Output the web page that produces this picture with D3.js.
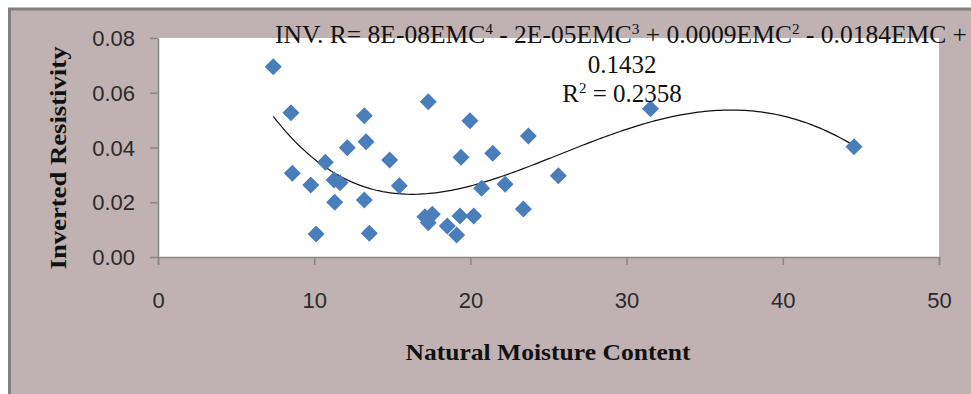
<!DOCTYPE html>
<html>
<head>
<meta charset="utf-8">
<script src="https://cdn.jsdelivr.net/npm/d3@7"></script>
<style>
  body { margin: 0; background: #fff; }
  svg { display: block; }
</style>
</head>
<body>
<div class="chart"></div>
<script>
// natural moisture content (x) and inverted resistivity (y)
const emc = [7.38, 8.51, 8.60, 9.78, 10.12, 10.71, 11.27, 11.65, 11.31, 12.12,
             13.21, 13.32, 13.21, 13.53, 14.83, 15.45, 17.30, 17.09, 17.56, 17.30,
             18.52, 19.12, 19.40, 19.33, 19.97, 20.21, 20.72, 21.43, 22.22, 23.39,
             23.71, 25.63, 31.53, 44.56]
const invR = [0.0695, 0.0527, 0.0306, 0.0263, 0.0084, 0.0346, 0.0281, 0.0271, 0.0200, 0.0399,
              0.0516, 0.0421, 0.0208, 0.0087, 0.0354, 0.0260, 0.0567, 0.0147, 0.0156, 0.0125,
              0.0113, 0.0080, 0.0364, 0.0150, 0.0498, 0.0150, 0.0251, 0.0379, 0.0266, 0.0175,
              0.0442, 0.0297, 0.0542, 0.0403]
const xTicks = [0, 10, 20, 30, 40, 50]
const yTicks = [0, 0.02, 0.04, 0.06, 0.08]

const W = 971, H = 394
const margin = ({top: 38, right: 32, bottom: 137, left: 158})
const width = W - margin.left - margin.right,
      height = H - margin.top - margin.bottom

let svg = d3.select(".chart").append("svg")
    .attr("width", W)
    .attr("height", H)

// chart area background with its border
svg.append("rect")
    .attr("x", 9.5).attr("y", 9)
    .attr("width", W + 20).attr("height", H + 20)
    .attr("fill", "#c0b2b2")
    .attr("stroke", "#808080")
    .attr("stroke-width", 3)

let g = svg.append("g")
    .attr("transform", "translate(" + margin.left + "," + margin.top + ")")

const xScale = d3.scaleLinear().domain([0, 50]).range([0, width])
const yScale = d3.scaleLinear().domain([0, 0.08]).range([height, 0])

g.append("rect")
    .attr("width", width).attr("height", height)
    .attr("fill", "#fff")

let xAxis = d3.axisBottom(xScale).tickValues(xTicks).tickSizeInner(8).tickSizeOuter(8).tickPadding(27)
let yAxis = d3.axisLeft(yScale).tickValues(yTicks).tickSizeInner(8).tickSizeOuter(0)
    .tickPadding(15).tickFormat(d3.format(".2f"))

g.append("g")
    .attr("class", "axis x-axis")
    .attr("transform", `translate(0, ${height})`)
    .call(xAxis)

g.append("g")
    .attr("class", "axis y-axis")
    .call(yAxis)

g.selectAll(".axis path, .axis line")
    .attr("stroke", "#868686")
    .attr("stroke-width", 1.5)
g.selectAll(".axis text")
    .attr("fill", "#2a2a2a")
    .style("font-family", "'Liberation Sans', Arial, sans-serif")
    .style("font-size", "22px")
g.selectAll(".y-axis text").attr("dy", "0.35em")

// polynomial (order 4) least squares trendline, like the spreadsheet's
function polyFit(xs, ys, deg) {
    const n = deg + 1, s = 10
    let A = [], b = []
    for (let i = 0; i < n; i++) {
        A.push(new Array(n).fill(0)); b.push(0)
    }
    xs.forEach((x, k) => {
        const u = x / s
        for (let i = 0; i < n; i++) {
            for (let j = 0; j < n; j++) A[i][j] += Math.pow(u, i + j)
            b[i] += ys[k] * Math.pow(u, i)
        }
    })
    for (let c = 0; c < n; c++) {
        let p = c
        for (let r = c + 1; r < n; r++) if (Math.abs(A[r][c]) > Math.abs(A[p][c])) p = r
        ;[A[c], A[p]] = [A[p], A[c]]; [b[c], b[p]] = [b[p], b[c]]
        for (let r = 0; r < n; r++) {
            if (r == c) continue
            const f = A[r][c] / A[c][c]
            for (let j = c; j < n; j++) A[r][j] -= f * A[c][j]
            b[r] -= f * b[c]
        }
    }
    const coef = b.map((v, i) => v / A[i][i])
    return x => coef.reduce((acc, c, i) => acc + c * Math.pow(x / s, i), 0)
}

const fit = polyFit(emc, invR, 4)
const xs = d3.range(d3.min(emc), d3.max(emc), 0.2).concat([d3.max(emc)])

g.append("path")
    .datum(xs)
    .attr("fill", "none")
    .attr("stroke", "#111")
    .attr("stroke-width", 1.2)
    .attr("d", d3.line().x(d => xScale(d)).y(d => yScale(fit(d))))

const data = emc.map((d, i) => ({x: d, y: invR[i]}))

g.selectAll(".pt")
    .data(data)
    .enter()
    .append("path")
    .attr("class", "pt")
    .attr("transform", d => `translate(${xScale(d.x)},${yScale(d.y)})`)
    .attr("d", "M0,-8.5L8.5,0L0,8.5L-8.5,0Z")
    .attr("fill", "#4a7ebb")

// trendline equation label
const serif = "'Liberation Serif', 'Times New Roman', serif"
const eqParts = [["INV. R= 8E-08EMC", "4"], [" - 2E-05EMC", "3"], [" + 0.0009EMC", "2"], [" - 0.0184EMC +", null]]

let eq = svg.append("text")
    .attr("x", 621).attr("y", 43)
    .attr("text-anchor", "middle")
    .style("font-family", serif)
    .style("font-size", "25px")
    .attr("fill", "#111")
    .attr("textLength", 692).attr("lengthAdjust", "spacingAndGlyphs")
let shift = 0
eqParts.forEach(p => {
    eq.append("tspan").text(p[0]).attr("dy", -shift)
    shift = 0
    if (p[1]) {
        eq.append("tspan").text(p[1]).attr("dy", -9).style("font-size", "15px")
        shift = -9
    }
})

svg.append("text")
    .attr("x", 622).attr("y", 73)
    .attr("text-anchor", "middle")
    .style("font-family", serif).style("font-size", "25px").attr("fill", "#111")
    .text("0.1432")
let r2 = svg.append("text")
    .attr("x", 622).attr("y", 102)
    .attr("text-anchor", "middle")
    .style("font-family", serif).style("font-size", "25px").attr("fill", "#111")
r2.append("tspan").text("R")
r2.append("tspan").text("2").attr("dy", -9).style("font-size", "15px")
r2.append("tspan").text(" = 0.2358").attr("dy", 9)

// axis titles
svg.append("text")
    .attr("x", 548).attr("y", 360)
    .attr("text-anchor", "middle")
    .style("font-family", serif).style("font-size", "23px").style("font-weight", "bold")
    .attr("fill", "#111")
    .attr("textLength", 285).attr("lengthAdjust", "spacingAndGlyphs")
    .text("Natural Moisture Content")

svg.append("text")
    .attr("transform", "translate(66,158) rotate(-90)")
    .attr("text-anchor", "middle")
    .style("font-family", serif).style("font-size", "23px").style("font-weight", "bold")
    .attr("fill", "#111")
    .attr("textLength", 223).attr("lengthAdjust", "spacingAndGlyphs")
    .text("Inverted Resistivity")
</script>
</body>
</html>
